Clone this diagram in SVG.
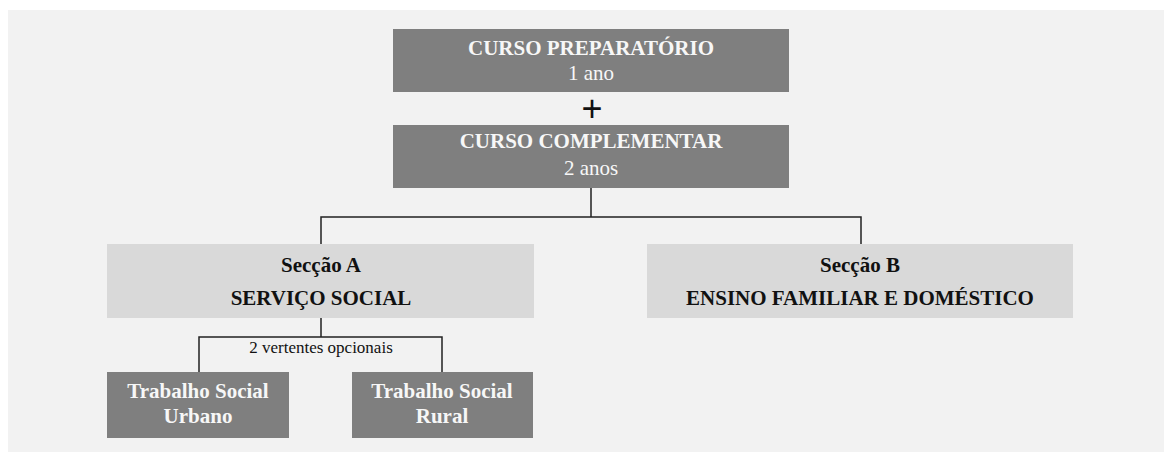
<svg xmlns="http://www.w3.org/2000/svg" width="1164" height="452" viewBox="0 0 1164 452">
<style>
.dark{fill:#7f7f7f}
.light{fill:#d9d9d9}
.wt{font-family:"Liberation Serif","Times New Roman",serif;fill:#f7f7f7;text-anchor:middle;font-size:21px}
.bt{font-family:"Liberation Serif","Times New Roman",serif;fill:#111;text-anchor:middle;font-size:21px;font-weight:bold}
.b{font-weight:bold}
.ln{stroke:#222;stroke-width:1.5;fill:none}
</style>
<rect x="0" y="0" width="1164" height="452" fill="#ffffff"/>
<rect x="8" y="10" width="1156" height="442" fill="#f2f2f2"/>
<g id="curso-preparatorio">
<rect class="dark" x="393" y="29" width="396" height="63"/>
<text class="wt b" x="591" y="55">CURSO PREPARATÓRIO</text>
<text class="wt" x="591" y="80" font-size="20">1 ano</text>
</g>
<g id="plus">
<text x="592" y="121" font-family="Liberation Sans, Arial, sans-serif" font-size="36" fill="#111" text-anchor="middle">+</text>
</g>
<g id="curso-complementar">
<rect class="dark" x="393" y="125" width="396" height="63"/>
<text class="wt b" x="591" y="148">CURSO COMPLEMENTAR</text>
<text class="wt" x="591" y="175" font-size="20">2 anos</text>
</g>
<g id="seccao-a">
<rect class="light" x="107" y="244" width="427" height="74"/>
<text class="bt" x="321" y="272">Secção A</text>
<text class="bt" x="321" y="305">SERVIÇO SOCIAL</text>
</g>
<g id="seccao-b">
<rect class="light" x="647" y="244" width="426" height="74"/>
<text class="bt" x="860" y="272">Secção B</text>
<text class="bt" x="860" y="305">ENSINO FAMILIAR E DOMÉSTICO</text>
</g>
<g id="urbano">
<rect class="dark" x="107" y="372" width="182" height="66"/>
<text class="wt b" x="198" y="398">Trabalho Social</text>
<text class="wt b" x="198" y="423">Urbano</text>
</g>
<g id="rural">
<rect class="dark" x="352" y="372" width="181" height="66"/>
<text class="wt b" x="442" y="398">Trabalho Social</text>
<text class="wt b" x="442" y="423">Rural</text>
</g>
<g id="connectors">
<path class="ln" d="M591 188V217M321 244V217H861V244"/>
<path class="ln" d="M321 318V337M199 372V337H442V372"/>
<text x="321" y="353" font-family="Liberation Serif, Times New Roman, serif" font-size="17" fill="#111" text-anchor="middle">2 vertentes opcionais</text>
</g>
</svg>
